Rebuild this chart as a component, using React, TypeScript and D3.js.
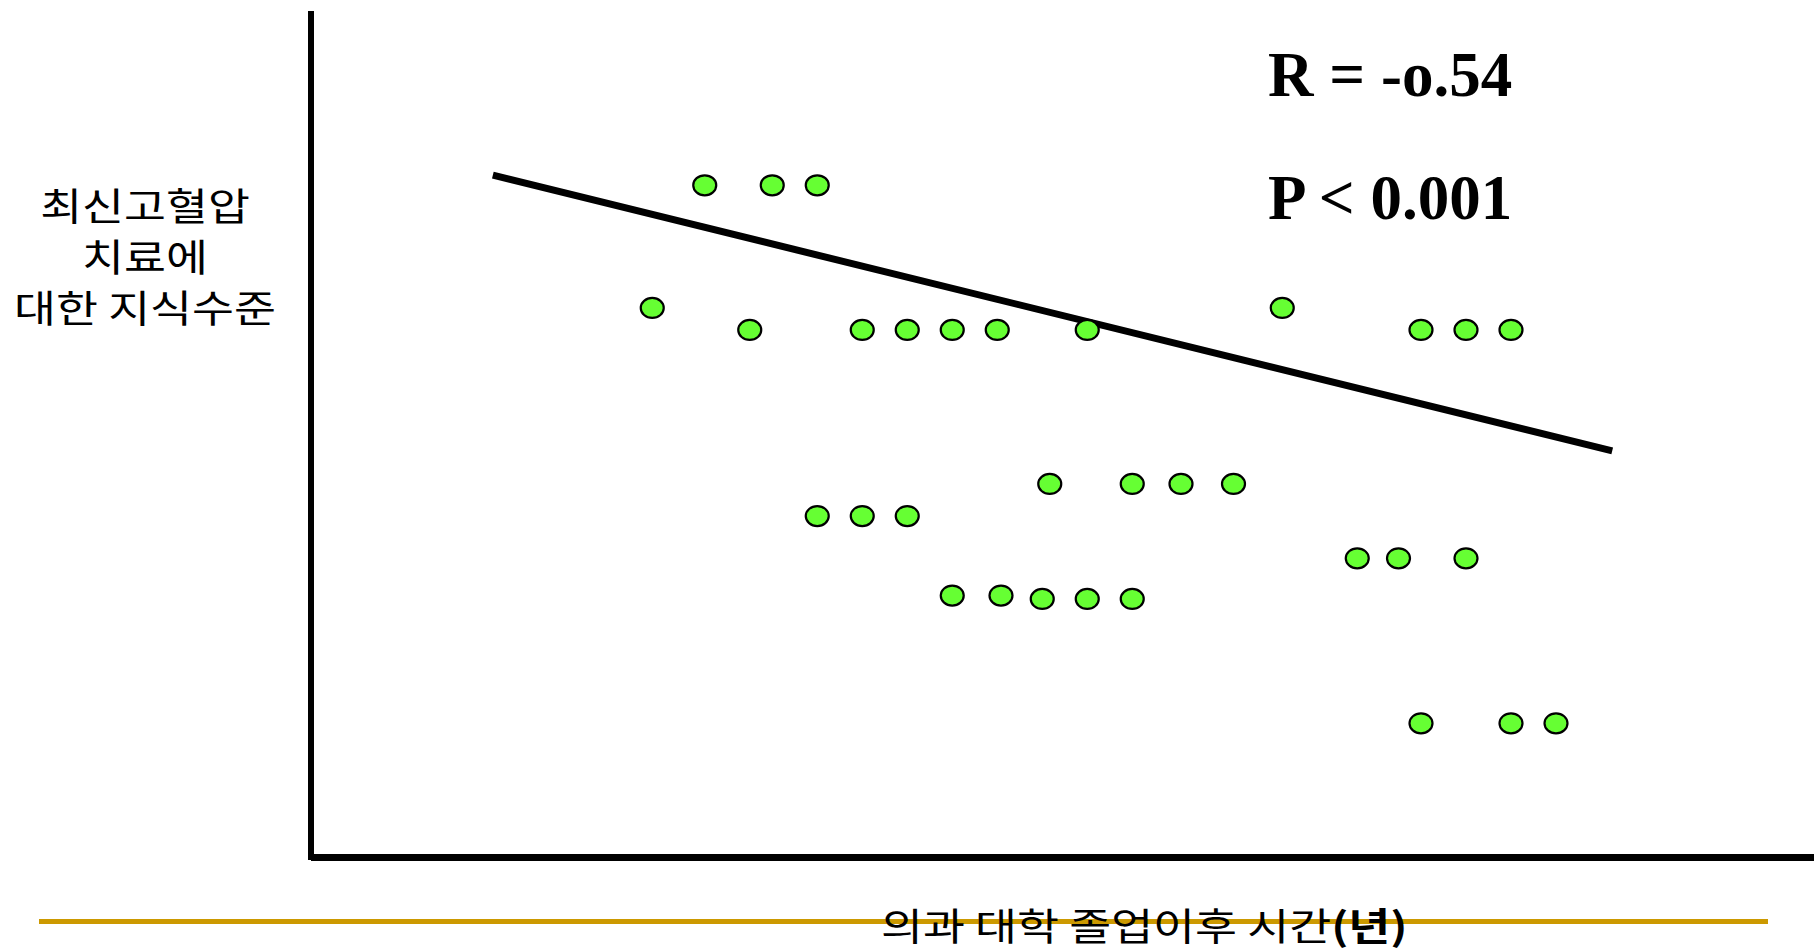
import React from "react";
import * as d3 from "d3";

// Years since medical school graduation (x) and knowledge score (y) for each respondent
const years = [
  10.5, 12.3, 13.5,
  9.1, 25.9,
  11.7, 14.7, 15.9, 17.1, 18.3, 20.7, 29.6, 30.8, 32.0,
  19.7, 21.9, 23.2, 24.6,
  13.5, 14.7, 15.9,
  27.9, 29.0, 30.8,
  17.1, 18.4, 19.5, 20.7, 21.9,
  29.6, 32.0, 33.2,
];
const scores = [
  79.4, 79.4, 79.4,
  64.9, 64.9,
  62.3, 62.3, 62.3, 62.3, 62.3, 62.3, 62.3, 62.3, 62.3,
  44.1, 44.1, 44.1, 44.1,
  40.3, 40.3, 40.3,
  35.3, 35.3, 35.3,
  30.9, 30.9, 30.5, 30.5, 30.5,
  15.8, 15.8, 15.8,
];

// Fitted regression line endpoints
const trendYears = [4.85, 34.7];
const trendScores = [80.6, 48.0];

const statLines = ["R = -o.54", "P < 0.001"];
const yLabelLines = ["최신고혈압", "치료에", "대한 지식수준"];
const xLabelMain = "의과 대학 졸업이후 시간";
const xLabelUnit = "(년)";

const W = 1814;
const H = 951;

export default function App() {
  const x = d3.scaleLinear().domain([0, 40]).range([311, 1811]);
  const y = d3.scaleLinear().domain([0, 100]).range([857, 11]);

  const trend = d3
    .line<number>()
    .x((d) => x(trendYears[d]))
    .y((d) => y(trendScores[d]))([0, 1]);

  const kr = "'Noto Sans CJK KR', 'Noto Sans', sans-serif";

  return (
    <svg
      width={W}
      height={H}
      style={{ position: "absolute", left: 0, top: 0, display: "block", background: "#fff" }}
    >
      {/* decorative rule under the plot */}
      <line x1={39} x2={1768} y1={921.5} y2={921.5} stroke="#cc9900" strokeWidth={5} />

      {/* axes */}
      <line x1={x(0)} x2={x(0)} y1={y(100)} y2={y(0) + 3} stroke="#000" strokeWidth={6} />
      <line x1={x(0)} x2={W} y1={y(0) + 0.5} y2={y(0) + 0.5} stroke="#000" strokeWidth={7} />

      {/* regression line */}
      <path d={trend ?? ""} stroke="#000" strokeWidth={7} fill="none" />

      {/* data points */}
      {years.map((yr, i) => (
        <ellipse
          key={i}
          cx={x(yr)}
          cy={y(scores[i])}
          rx={11.5}
          ry={10}
          fill="#66ff33"
          stroke="#000"
          strokeWidth={2.2}
        />
      ))}

      {/* statistics */}
      {statLines.map((s, i) => (
        <text
          key={s}
          x={1268}
          y={i === 0 ? 96 : 219}
          fontFamily="'Liberation Serif', 'Times New Roman', serif"
          fontWeight="bold"
          fontSize={63}
          fill="#000"
        >
          {s}
        </text>
      ))}

      {/* y-axis title (wide hangul face) */}
      {yLabelLines.map((s, i) => (
        <text
          key={s}
          transform={`translate(145,${220 + i * 51}) scale(1.2,1)`}
          textAnchor="middle"
          fontFamily={kr}
          fontSize={38}
          fill="#000"
        >
          {s}
        </text>
      ))}

      {/* x-axis title */}
      <text
        transform="translate(881,940) scale(1.2,1)"
        fontFamily={kr}
        fontSize={38}
        fill="#000"
      >
        {xLabelMain}
        <tspan fontWeight="bold">{xLabelUnit}</tspan>
      </text>
    </svg>
  );
}
